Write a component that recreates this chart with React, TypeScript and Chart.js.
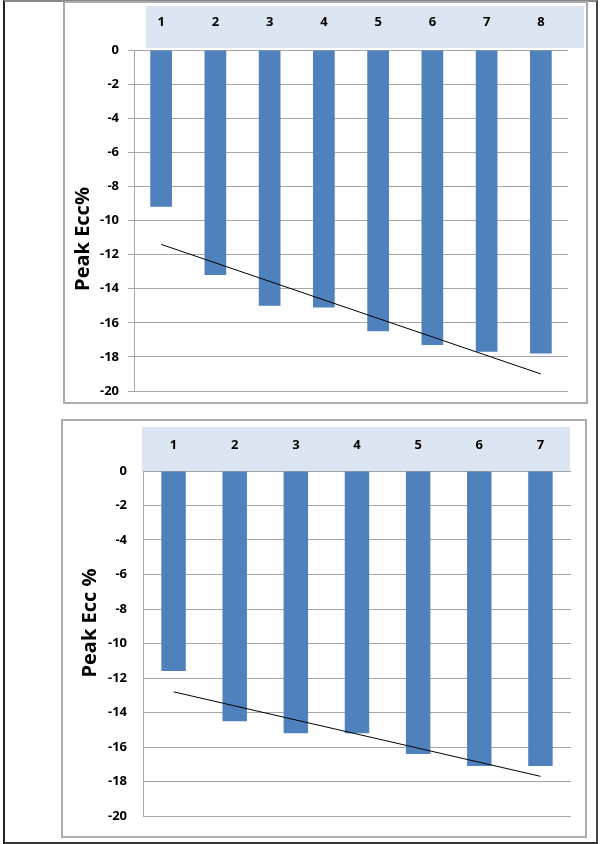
import React, { useEffect, useRef } from "react";
import { Chart, registerables } from "chart.js";

Chart.register(...registerables);

// ---- Data ----
const categoriesTop = ["1", "2", "3", "4", "5", "6", "7", "8"];
const peakEccTop = [-9.2, -13.2, -15.0, -15.1, -16.5, -17.3, -17.7, -17.8];
const trendTop = [-11.4, null, null, null, null, null, null, -19.0];

const categoriesBottom = ["1", "2", "3", "4", "5", "6", "7"];
const peakEccBottom = [-11.6, -14.5, -15.2, -15.2, -16.4, -17.1, -17.1];
const trendBottom = [-12.8, null, null, null, null, null, -17.7];

const yMin = -20;
const yMax = 0;
const yStep = 2;

const titleTop = "Peak Ecc%";
const titleBottom = "Peak Ecc %";

const FONT = "'Open Sans', Lato, 'DejaVu Sans', sans-serif";

type Cfg = {
  categories: string[];
  values: number[];
  trend: (number | null)[];
  width: number;
  height: number;
  pad: { top: number; right: number; bottom: number };
  yWidth: number;
  xHeight: number;
  xPadding: number;
  yPadding: number;
  drawTicks: boolean;
  band: { l: number; r: number; top: number; bottom: number };
  title: string;
  titlePos: { x: number; y: number };
};

function BarChart(props: Cfg) {
  const ref = useRef<HTMLCanvasElement | null>(null);
  useEffect(() => {
    if (!ref.current) return;
    const p = props;
    const bandPlugin = {
      id: "band",
      beforeDraw(chart: any) {
        const { ctx, chartArea } = chart;
        ctx.save();
        ctx.fillStyle = "#DCE6F2";
        const x0 = chartArea.left + p.band.l;
        const x1 = chartArea.right + p.band.r;
        ctx.fillRect(x0, p.band.top, x1 - x0, chartArea.top + p.band.bottom - p.band.top);
        ctx.restore();
      },
    };
    const titlePlugin = {
      id: "ytitle",
      afterDraw(chart: any) {
        const { ctx } = chart;
        ctx.save();
        ctx.translate(p.titlePos.x, p.titlePos.y);
        ctx.rotate(-Math.PI / 2);
        ctx.font = "bold 20px " + FONT;
        ctx.fillStyle = "#000";
        ctx.textAlign = "center";
        ctx.textBaseline = "middle";
        ctx.fillText(p.title, 0, 0);
        ctx.restore();
      },
    };
    const chart = new Chart(ref.current, {
      type: "bar",
      data: {
        labels: p.categories,
        datasets: [
          {
            type: "line",
            data: p.trend,
            borderColor: "#000",
            borderWidth: 1,
            pointRadius: 0,
            spanGaps: true,
            fill: false,
            order: 1,
          } as any,
          {
            type: "bar",
            data: p.values,
            backgroundColor: "#4F81BD",
            borderWidth: 0,
            categoryPercentage: 1,
            barPercentage: 0.4,
            order: 2,
          } as any,
        ],
      },
      options: {
        animation: false,
        responsive: false,
        devicePixelRatio: 1,
        layout: { padding: { top: p.pad.top, right: p.pad.right, bottom: p.pad.bottom, left: 0 } },
        plugins: { legend: { display: false }, tooltip: { enabled: false } },
        scales: {
          x: {
            position: "top",
            grid: { display: false },
            border: { display: false },
            ticks: {
              color: "#000",
              font: { family: FONT, size: 13, weight: "bold" },
              padding: p.xPadding,
              maxRotation: 0,
            },
            afterFit: (s: any) => {
              s.height = p.xHeight;
              s.paddingLeft = 0;
              s.paddingRight = 0;
            },
          },
          y: {
            min: yMin,
            max: yMax,
            grid: {
              color: "#A6A6A6",
              lineWidth: 1,
              drawTicks: p.drawTicks,
              tickLength: 6,
            },
            border: { display: true, color: "#A6A6A6", width: 1 },
            ticks: {
              stepSize: yStep,
              color: "#000",
              font: { family: FONT, size: 13, weight: "bold" },
              padding: p.yPadding,
            },
            afterFit: (s: any) => {
              s.width = p.yWidth;
              s.paddingTop = 0;
              s.paddingBottom = 0;
            },
          },
        },
      } as any,
      plugins: [bandPlugin, titlePlugin],
    });
    return () => chart.destroy();
  }, []);
  return <canvas ref={ref} width={props.width} height={props.height} style={{ display: "block" }} />;
}

export default function App() {
  return (
    <div
      style={{
        position: "absolute",
        left: 0,
        top: 0,
        width: 600,
        height: 844,
        background: "#fff",
        overflow: "hidden",
      }}
    >
      {/* outer frame */}
      <div
        style={{
          position: "absolute",
          left: 3,
          top: 0,
          width: 591,
          height: 840,
          borderLeft: "2px solid #222",
          borderRight: "2px solid #444",
          borderTop: "2px solid #888",
          borderBottom: "2px solid #333",
        }}
      />
      {/* top chart */}
      <div style={{ position: "absolute", left: 64, top: 2 }}>
        <BarChart
          categories={categoriesTop}
          values={peakEccTop}
          trend={trendTop}
          width={524}
          height={402}
          pad={{ top: 4, right: 20, bottom: 13 }}
          yWidth={70}
          xHeight={44}
          xPadding={12}
          yPadding={9}
          drawTicks={true}
          band={{ l: 12, r: 16, top: 4, bottom: -2 }}
          title={titleTop}
          titlePos={{ x: 19, y: 237 }}
        />
      </div>
      <div
        style={{
          position: "absolute",
          left: 63,
          top: 1,
          width: 521,
          height: 399,
          border: "2px solid #ABABAB",
          pointerEvents: "none",
        }}
      />
      {/* bottom chart */}
      <div style={{ position: "absolute", left: 62, top: 420 }}>
        <BarChart
          categories={categoriesBottom}
          values={peakEccBottom}
          trend={trendBottom}
          width={524}
          height={417}
          pad={{ top: 7, right: 15, bottom: 21 }}
          yWidth={81}
          xHeight={44}
          xPadding={10}
          yPadding={16}
          drawTicks={false}
          band={{ l: -1, r: -1, top: 7, bottom: 0 }}
          title={titleBottom}
          titlePos={{ x: 28, y: 203 }}
        />
      </div>
      <div
        style={{
          position: "absolute",
          left: 61,
          top: 419,
          width: 522,
          height: 415,
          border: "2px solid #ABABAB",
          pointerEvents: "none",
        }}
      />
    </div>
  );
}
